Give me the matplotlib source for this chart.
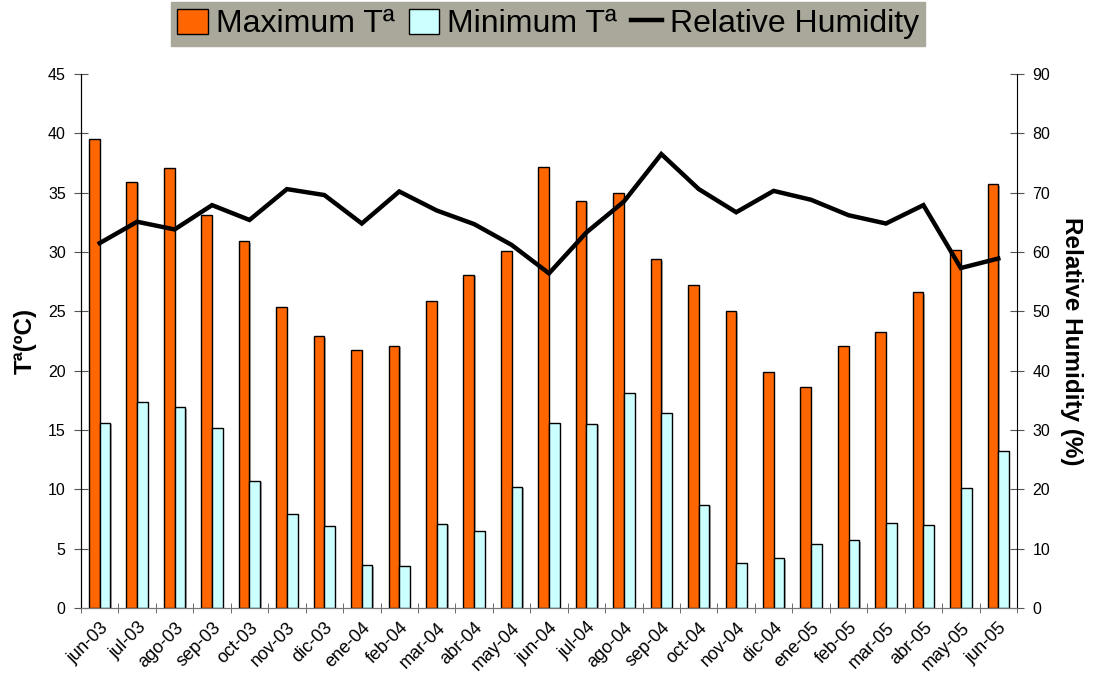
import matplotlib
matplotlib.use("Agg")
import matplotlib.pyplot as plt
import numpy as np
from matplotlib.lines import Line2D
from matplotlib.patches import Patch
import matplotlib.patheffects as pe
import matplotlib.transforms as mtransforms

plt.rcParams['font.family'] = ['Liberation Sans', 'DejaVu Sans']

months = ["jun-03", "jul-03", "ago-03", "sep-03", "oct-03", "nov-03", "dic-03",
          "ene-04", "feb-04", "mar-04", "abr-04", "may-04", "jun-04", "jul-04",
          "ago-04", "sep-04", "oct-04", "nov-04", "dic-04", "ene-05", "feb-05",
          "mar-05", "abr-05", "may-05", "jun-05"]
max_temp = [39.5, 35.9, 37.1, 33.1, 30.9, 25.4, 22.9, 21.7, 22.1, 25.9, 28.1, 30.1,
            37.2, 34.3, 35.0, 29.4, 27.2, 25.0, 19.9, 18.6, 22.1, 23.3, 26.6, 30.2, 35.7]
min_temp = [15.6, 17.4, 16.9, 15.2, 10.7, 7.9, 6.9, 3.6, 3.5, 7.1, 6.5, 10.2,
            15.6, 15.5, 18.1, 16.4, 8.7, 3.8, 4.2, 5.4, 5.7, 7.2, 7.0, 10.1, 13.2]
humidity = [61.5, 65.1, 63.8, 67.9, 65.4, 70.6, 69.6, 64.8, 70.2, 67.0, 64.7, 61.2,
            56.4, 63.3, 68.5, 76.5, 70.6, 66.7, 70.3, 68.8, 66.2, 64.8, 67.9, 57.3, 58.9]

fig = plt.figure(figsize=(10.96, 6.79), dpi=100)
ax = fig.add_axes([81/1096, 1 - 608/679, (1017 - 81)/1096, (608 - 74)/679])
ax2 = ax.twinx()

x = np.arange(len(months))
w = 0.2857
shadow = [pe.SimplePatchShadow(offset=(1, -1), shadow_rgbFace='#999999', alpha=0.8), pe.Normal()]
b1 = ax.bar(x - w/2, max_temp, w, color='#FF6600', edgecolor='black', linewidth=1.0, zorder=3)
b2 = ax.bar(x + w/2, min_temp, w, color='#CCFFFF', edgecolor='black', linewidth=1.0, zorder=3)
for b in list(b1) + list(b2):
    b.set_path_effects(shadow)

ax2.plot(x, humidity, color='black', linewidth=3.2, solid_joinstyle='miter', zorder=4)

ax.set_xlim(-0.5, len(months) - 0.5)
ax.set_ylim(0, 45)
ax2.set_ylim(0, 90)
ax.set_yticks(np.arange(0, 46, 5))
ax2.set_yticks(np.arange(0, 91, 10))

ax.set_xticks(x)
ax.set_xticklabels(months, rotation=45, ha='right', va='top', rotation_mode='anchor', fontsize=13)
offset = mtransforms.ScaledTranslation(-6/100, 0, fig.dpi_scale_trans)
for lab in ax.get_xticklabels():
    lab.set_transform(lab.get_transform() + offset)
ax.set_xticks(np.arange(-0.5, len(months), 1), minor=True)
ax.tick_params(axis='x', which='major', length=0, pad=8)
ax.tick_params(axis='x', which='minor', length=7, direction='inout', color='#555555')
ax.tick_params(axis='y', length=10, direction='inout', color='#555555', labelsize=11.5, pad=6)
ax2.tick_params(axis='y', length=10, direction='inout', color='#555555', labelsize=11.5, pad=6)

for a in (ax, ax2):
    a.spines['top'].set_visible(False)
    a.spines['left'].set_color('black')
    a.spines['right'].set_color('black')
    a.spines['bottom'].set_color('#777777')
    a.set_facecolor('none')
ax.spines['right'].set_visible(False)

ax.set_ylabel('Tª(ºC)', fontsize=17.5, fontweight='bold', labelpad=8)
ax2.set_ylabel('Relative Humidity (%)', fontsize=17.5, fontweight='bold', rotation=-90, labelpad=24)

handles = [Patch(facecolor='#FF6600', edgecolor='black', linewidth=1),
           Patch(facecolor='#CCFFFF', edgecolor='black', linewidth=1),
           Line2D([0], [0], color='black', linewidth=3.2)]
leg = fig.legend(handles, ['Maximum Tª', 'Minimum Tª', 'Relative Humidity'],
                 loc='center', bbox_to_anchor=(0.5, 1 - 24/679), ncol=3,
                 fontsize=23, frameon=True, fancybox=False, handlelength=0.95,
                 handleheight=0.85, handletextpad=0.25, columnspacing=0.45,
                 borderpad=0.2, borderaxespad=0)
leg.get_frame().set_facecolor('#AAA89B')
leg.get_frame().set_edgecolor('#AAA89B')
leg.get_frame().set_alpha(1)

fig.savefig('out.png', dpi=100)
